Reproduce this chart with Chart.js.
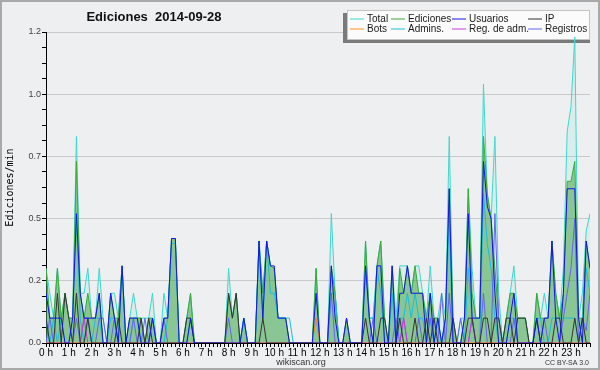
<!DOCTYPE html>
<html>
<head>
<meta charset="utf-8">
<script src="https://cdn.jsdelivr.net/npm/chart.js@4.4.0/dist/chart.umd.min.js"></script>
<style>
  html, body { margin: 0; padding: 0; background: #eeeff1; }
  #wrap { width: 600px; height: 370px; }
</style>
</head>
<body>
<div id="wrap"><canvas id="chart" width="600" height="370"></canvas></div>
<script>
// 10 minute slots, 6 per hour (values are edits per minute)
var slots = Array.from({ length: 144 }, function (_, i) { return i; });

var total = [
  0.3, 0.2, 0.1, 0.3, 0.1, 0.2,   0.1, 0.1, 0.83, 0.2, 0.2, 0.3,
  0.1, 0.1, 0.3, 0.1, 0, 0.2,     0.2, 0.1, 0.31, 0, 0.1, 0.2,
  0.1, 0.1, 0.1, 0.1, 0.2, 0,     0, 0.2, 0.1, 0.42, 0.42, 0,
  0, 0.1, 0.2, 0, 0, 0,           0, 0, 0, 0, 0, 0,
  0.3, 0.1, 0.2, 0, 0.1, 0,       0, 0, 0.41, 0.2, 0.41, 0.31,
  0.3, 0.1, 0.1, 0.1, 0, 0,       0, 0, 0, 0, 0, 0.3,
  0, 0, 0, 0.52, 0.2, 0,          0, 0.1, 0, 0, 0, 0,
  0.41, 0.1, 0.1, 0.31, 0.41, 0.1, 0, 0.31, 0.1, 0.31, 0.31, 0.31,
  0.2, 0.31, 0.31, 0.2, 0.1, 0.31, 0.1, 0.1, 0.2, 0.1, 0.83, 0.1,
  0, 0.1, 0.1, 0.62, 0.3, 0.1,    0.1, 1.04, 0.6, 0.5, 0.83, 0.2,
  0, 0.1, 0.2, 0.31, 0.1, 0.1,    0.1, 0, 0, 0.2, 0.1, 0.2,
  0.1, 0.41, 0.2, 0.1, 0.3, 0.85, 0.95, 1.23, 0.1, 0.2, 0.45, 0.52
];
var ediciones = [
  0.3, 0.1, 0.1, 0.3, 0.1, 0.2,   0.1, 0.1, 0.73, 0.2, 0.1, 0.2,
  0.1, 0.1, 0.2, 0, 0, 0.2,       0.1, 0.1, 0.31, 0, 0.1, 0.1,
  0.1, 0.1, 0, 0.1, 0.1, 0,       0, 0.1, 0.1, 0.42, 0.42, 0,
  0, 0.1, 0.2, 0, 0, 0,           0, 0, 0, 0, 0, 0,
  0.2, 0.1, 0.2, 0, 0.1, 0,       0, 0, 0.41, 0.2, 0.41, 0.31,
  0.3, 0.1, 0.1, 0.1, 0, 0,       0, 0, 0, 0, 0, 0.3,
  0, 0, 0, 0.31, 0.2, 0,          0, 0.1, 0, 0, 0, 0,
  0.41, 0.1, 0, 0.31, 0.41, 0.1,  0, 0.31, 0, 0.3, 0.2, 0.31,
  0.2, 0.31, 0.2, 0.2, 0.1, 0.2,  0.1, 0.1, 0, 0.1, 0.62, 0.1,
  0, 0, 0.1, 0.62, 0.2, 0.1,      0.1, 0.83, 0.6, 0.5, 0.3, 0.1,
  0, 0.1, 0.2, 0.2, 0.1, 0.1,     0.1, 0, 0, 0.2, 0.1, 0.1,
  0.1, 0.41, 0.2, 0.1, 0.2, 0.65, 0.65, 0.73, 0.1, 0.1, 0.41, 0.3
];
var usuarios = [
  0.2, 0.1, 0.1, 0.1, 0.1, 0,     0, 0.1, 0.52, 0.2, 0.1, 0.1,
  0.1, 0.1, 0.2, 0, 0, 0.2,       0.1, 0, 0.31, 0, 0.1, 0.1,
  0.1, 0, 0, 0, 0.1, 0,           0, 0.1, 0.1, 0.42, 0.42, 0,
  0, 0, 0.1, 0, 0, 0,             0, 0, 0, 0, 0, 0,
  0, 0, 0, 0, 0.1, 0,             0, 0, 0.41, 0.1, 0.41, 0.31,
  0.31, 0.1, 0.1, 0.1, 0, 0,      0, 0, 0, 0, 0, 0.2,
  0, 0, 0, 0.31, 0.1, 0,          0, 0.1, 0, 0, 0, 0,
  0.31, 0.1, 0, 0.31, 0.31, 0,    0, 0.31, 0, 0.2, 0.2, 0.31,
  0.2, 0.2, 0.2, 0.2, 0, 0.2,     0, 0.1, 0, 0.1, 0.62, 0,
  0, 0, 0.1, 0.52, 0.1, 0.1,      0.1, 0.73, 0.55, 0.5, 0.2, 0,
  0, 0, 0.1, 0.2, 0, 0,           0, 0, 0, 0.1, 0, 0.1,
  0.1, 0.41, 0.1, 0, 0.2, 0.62,   0.62, 0.62, 0.1, 0, 0.41, 0.3
];
var ip = [
  0.1, 0, 0, 0.2, 0, 0.2,         0.1, 0, 0.2, 0, 0, 0.1,
  0, 0, 0, 0, 0, 0,               0, 0.1, 0, 0, 0, 0,
  0, 0.1, 0, 0.1, 0, 0,           0, 0, 0, 0, 0, 0,
  0, 0.1, 0.1, 0, 0, 0,           0, 0, 0, 0, 0, 0,
  0.2, 0.1, 0.2, 0, 0, 0,         0, 0, 0, 0.1, 0, 0,
  0, 0, 0, 0, 0, 0,               0, 0, 0, 0, 0, 0,
  0, 0, 0, 0, 0, 0,               0, 0, 0, 0, 0, 0,
  0.1, 0, 0, 0, 0.1, 0.1,         0, 0, 0, 0.1, 0, 0,
  0, 0.1, 0, 0, 0.1, 0,           0.1, 0, 0, 0, 0, 0.1,
  0, 0, 0, 0.1, 0.1, 0,           0, 0.1, 0.1, 0, 0.1, 0.1,
  0, 0.1, 0.1, 0, 0.1, 0.1,       0.1, 0, 0, 0.1, 0, 0,
  0, 0, 0.1, 0.1, 0, 0,           0, 0.1, 0, 0.1, 0, 0
];
var bots = [
  0, 0, 0, 0, 0, 0,  0, 0, 0, 0, 0, 0,  0, 0, 0, 0, 0, 0,  0, 0, 0, 0, 0, 0,
  0, 0, 0, 0, 0, 0,  0, 0, 0, 0, 0, 0,  0, 0, 0, 0, 0, 0,  0, 0, 0, 0, 0, 0,
  0, 0, 0, 0, 0, 0,  0, 0, 0, 0, 0, 0,  0, 0, 0, 0, 0, 0,  0, 0, 0, 0, 0, 0.1,
  0, 0, 0, 0, 0, 0,  0, 0, 0, 0, 0, 0,  0, 0, 0, 0, 0, 0,  0, 0, 0, 0, 0, 0,
  0, 0, 0, 0, 0, 0,  0, 0, 0, 0, 0, 0,  0, 0, 0, 0, 0, 0,  0, 0, 0, 0, 0, 0,
  0, 0, 0, 0, 0, 0,  0, 0, 0, 0, 0, 0,  0, 0, 0, 0, 0, 0,  0, 0, 0, 0, 0, 0
];
var admins = [
  0.1, 0, 0.1, 0, 0.1, 0,         0, 0.1, 0.5, 0.1, 0, 0.1,
  0, 0.1, 0.1, 0, 0, 0.1,         0.1, 0, 0.31, 0, 0, 0.1,
  0.1, 0, 0, 0, 0.1, 0,           0, 0, 0.1, 0.4, 0.4, 0,
  0, 0, 0.1, 0, 0, 0,             0, 0, 0, 0, 0, 0,
  0, 0, 0, 0, 0.1, 0,             0, 0, 0.41, 0.1, 0.41, 0.2,
  0.2, 0.1, 0.1, 0.1, 0.1, 0,     0, 0, 0, 0, 0, 0.1,
  0, 0, 0, 0.2, 0.2, 0,           0, 0, 0, 0, 0, 0,
  0.3, 0.1, 0.1, 0.3, 0.2, 0,     0, 0.2, 0, 0.1, 0.1, 0.2,
  0.1, 0.2, 0.1, 0.1, 0, 0.1,     0, 0.1, 0, 0.1, 0.5, 0,
  0, 0, 0, 0.3, 0.1, 0,           0, 0.6, 0.4, 0.3, 0.1, 0,
  0, 0, 0.1, 0.1, 0, 0,           0, 0, 0, 0.1, 0.1, 0,
  0, 0.1, 0.1, 0.1, 0.1, 0.1,     0.1, 0.1, 0, 0.1, 0.3, 0.2
];
var regAdm = [
  0, 0, 0, 0, 0, 0,  0, 0, 0, 0, 0.1, 0,  0, 0, 0, 0, 0, 0,  0, 0, 0, 0, 0, 0,
  0, 0, 0, 0, 0, 0,  0, 0, 0, 0, 0, 0,  0, 0, 0, 0, 0, 0,  0, 0, 0, 0, 0, 0,
  0, 0, 0, 0, 0, 0,  0, 0, 0, 0, 0, 0,  0, 0, 0, 0, 0, 0,  0, 0, 0, 0, 0, 0,
  0, 0, 0, 0, 0, 0,  0, 0, 0, 0, 0, 0,  0, 0, 0, 0, 0, 0,  0, 0, 0, 0, 0.1, 0,
  0, 0, 0, 0, 0, 0,  0, 0, 0, 0, 0, 0,  0, 0, 0, 0, 0.1, 0,  0, 0, 0, 0, 0, 0,
  0, 0, 0, 0, 0, 0,  0, 0, 0, 0, 0, 0,  0, 0, 0, 0, 0, 0,  0, 0, 0, 0, 0, 0
];
var registros = [
  0, 0.1, 0, 0, 0, 0,             0, 0, 0.1, 0, 0.1, 0.1,
  0, 0, 0.1, 0.1, 0, 0,           0.1, 0, 0, 0, 0, 0.1,
  0, 0, 0.1, 0, 0.1, 0,           0, 0.1, 0, 0, 0, 0,
  0, 0, 0, 0, 0, 0,               0, 0, 0, 0, 0, 0,
  0.1, 0, 0, 0, 0, 0,             0, 0, 0, 0, 0, 0,
  0, 0, 0, 0, 0, 0,               0, 0, 0, 0, 0, 0,
  0, 0, 0, 0.2, 0, 0,             0, 0, 0, 0, 0, 0,
  0, 0, 0.1, 0, 0, 0,             0, 0, 0.1, 0, 0.1, 0,
  0, 0, 0.1, 0, 0, 0.1,           0, 0, 0.2, 0, 0.2, 0,
  0, 0.1, 0, 0, 0.1, 0,           0, 0.2, 0, 0, 0.52, 0.1,
  0, 0, 0, 0.1, 0, 0,             0, 0, 0, 0, 0, 0.1,
  0, 0, 0, 0, 0.1, 0.2,           0.3, 0.5, 0, 0.1, 0.05, 0.2
];

function pts(arr) {
  return arr.map(function (v, i) { return { x: slots[i], y: v }; });
}

function line(label, arr, color, order, fill, bg) {
  return {
    label: label,
    data: pts(arr),
    borderColor: color,
    backgroundColor: bg || color,
    borderWidth: 1,
    pointRadius: 0,
    tension: 0,
    fill: fill ? 'origin' : false,
    order: order
  };
}

var datasets = [
  line('Total', total, '#3fd8cc', 8, true, 'rgba(64,224,208,0.12)'),
  line('Ediciones', ediciones, '#3aaa3a', 7, true, 'rgba(60,160,60,0.5)'),
  line('Usuarios', usuarios, '#1414e6', 1),
  line('IP', ip, '#333333', 2),
  line('Bots', bots, '#ff8c1a', 3),
  line('Admins.', admins, '#1cbcdc', 6),
  line('Reg. de adm.', regAdm, '#c83cd8', 4),
  line('Registros', registros, '#6464f0', 5)
];

function isMajor(v) {
  return Math.abs(v / 0.25 - Math.round(v / 0.25)) < 1e-6;
}

var background = {
  id: 'background',
  beforeDraw: function (chart) {
    var ctx = chart.ctx;
    ctx.save();
    ctx.fillStyle = '#eeeff1';
    ctx.fillRect(0, 0, chart.width, chart.height);
    ctx.restore();
  }
};

var legendBox = {
  id: 'legendBox',
  beforeDatasetsDraw: function (chart) {
    var ctx = chart.ctx;
    ctx.save();
    ctx.fillStyle = '#7a7a7a';
    ctx.fillRect(343, 13, 247, 30);
    ctx.fillStyle = '#fbfbfb';
    ctx.fillRect(347, 10, 243, 30);
    ctx.strokeStyle = '#c4c4c4';
    ctx.lineWidth = 1;
    ctx.strokeRect(347.5, 10.5, 242, 29);
    var textX = [367, 408, 469, 545];
    var rowY = [19, 29];
    ctx.font = '10px "Liberation Sans", Arial, sans-serif';
    ctx.textBaseline = 'middle';
    ctx.textAlign = 'left';
    chart.data.datasets.forEach(function (ds, k) {
      var tx = textX[k % 4];
      var y = rowY[Math.floor(k / 4)];
      ctx.strokeStyle = ds.borderColor;
      ctx.beginPath();
      ctx.moveTo(tx - 17, y);
      ctx.lineTo(tx - 3, y);
      ctx.stroke();
      ctx.fillStyle = '#1a1a1a';
      ctx.fillText(ds.label, tx, y + 0.5);
    });
    ctx.restore();
  }
};

var decor = {
  id: 'decor',
  afterDraw: function (chart) {
    var ctx = chart.ctx;
    ctx.save();
    ctx.fillStyle = '#111';
    ctx.textAlign = 'center';
    ctx.textBaseline = 'alphabetic';
    ctx.font = 'bold 13px "Liberation Sans", Arial, sans-serif';
    ctx.fillText('Ediciones  2014-09-28', 154, 21);
    ctx.font = '9px "Liberation Sans", Arial, sans-serif';
    ctx.fillStyle = '#333';
    ctx.fillText('wikiscan.org', 301, 365);
    ctx.textAlign = 'right';
    ctx.font = '7px "Liberation Sans", Arial, sans-serif';
    ctx.fillText('CC BY-SA 3.0', 589, 365);
    ctx.strokeStyle = '#a9a9a9';
    ctx.lineWidth = 2;
    ctx.strokeRect(1, 1, chart.width - 2, chart.height - 2);
    ctx.restore();
  }
};

new Chart(document.getElementById('chart'), {
  type: 'line',
  data: { datasets: datasets },
  plugins: [background, legendBox, decor],
  options: {
    responsive: false,
    animation: false,
    devicePixelRatio: 1,
    layout: { padding: { left: 0, top: 32, right: 10, bottom: 0 } },
    plugins: {
      legend: { display: false },
      title: { display: false },
      tooltip: { enabled: false }
    },
    scales: {
      x: {
        type: 'linear',
        min: 0,
        max: 143,
        afterFit: function (s) { s.height = 27; },
        border: { display: true, color: '#000', width: 1 },
        grid: { drawOnChartArea: false, drawTicks: true, tickLength: 4, tickColor: '#000' },
        ticks: {
          stepSize: 1,
          autoSkip: false,
          minRotation: 0,
          maxRotation: 0,
          padding: 0,
          color: '#000',
          font: { family: '"Liberation Sans", Arial, sans-serif', size: 10 },
          callback: function (v) { return v % 6 === 0 ? (v / 6) + ' h' : ''; }
        }
      },
      y: {
        min: 0,
        max: 1.25,
        afterFit: function (s) { s.width = 46; },
        border: { display: true, color: '#000', width: 1 },
        grid: {
          drawTicks: true,
          tickLength: 4,
          tickColor: '#000',
          color: function (c) { return c.tick && isMajor(c.tick.value) ? '#c9c9c9' : 'rgba(0,0,0,0)'; }
        },
        ticks: {
          stepSize: 0.0625,
          autoSkip: false,
          padding: 1,
          color: '#444',
          font: { family: '"Liberation Sans", Arial, sans-serif', size: 9 },
          callback: function (v) {
            return isMajor(v) ? (Math.floor(v * 10 + 1e-6) / 10).toFixed(1) : '';
          }
        },
        title: {
          display: true,
          text: 'Ediciones/min',
          color: '#000',
          padding: { top: 4, bottom: 0 },
          font: { family: '"DejaVu Sans Mono", monospace', size: 10 }
        }
      }
    }
  }
});
</script>
</body>
</html>
